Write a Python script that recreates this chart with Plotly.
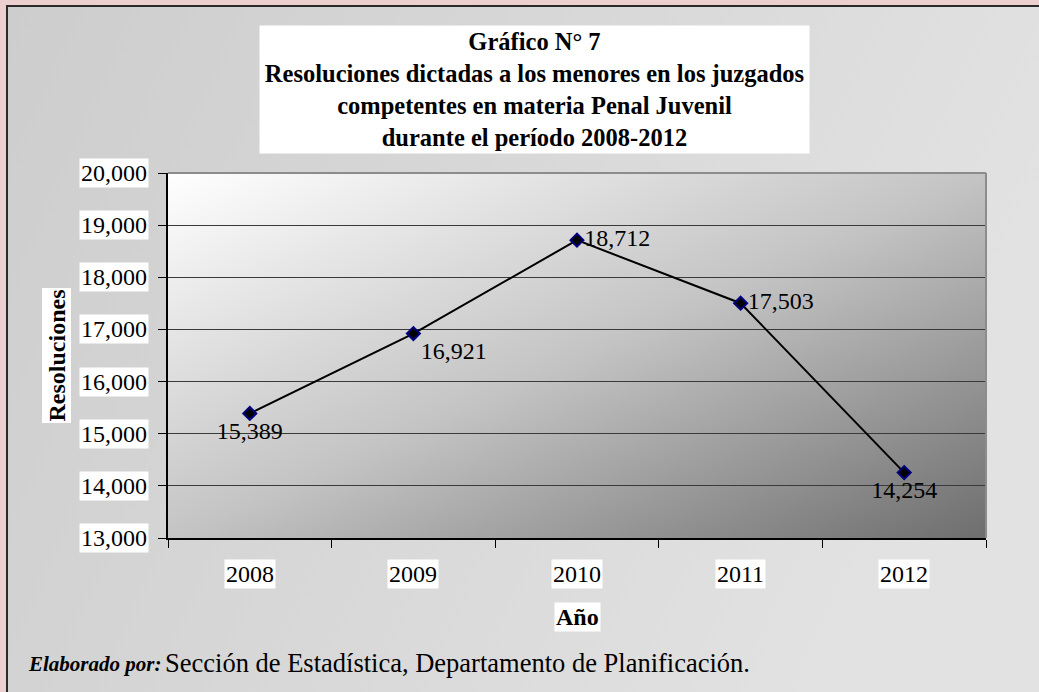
import base64

import plotly.graph_objects as go

# ── Data ──────────────────────────────────────────────────────────────────────
years = ["2008", "2009", "2010", "2011", "2012"]
resoluciones = [15389, 16921, 18712, 17503, 14254]
y_ticks = [13000, 14000, 15000, 16000, 17000, 18000, 19000, 20000]
label_pos = ["bottom center", "bottom right", "middle right", "middle right", "bottom center"]

# ── Geometry (pixels) ─────────────────────────────────────────────────────────
W, H = 1039, 692
L, R, T, B = 168, 53, 173, 154
PW, PH = W - L - R, H - T - B
SERIF = "Liberation Serif, Times New Roman, serif"


def px_x(px):
    return (px - L) / PW


def px_y(py):
    return (H - B - py) / PH


def svg_uri(svg):
    return "data:image/svg+xml;base64," + base64.b64encode(svg.encode()).decode()


plot_grad = svg_uri(
    '<svg xmlns="http://www.w3.org/2000/svg" width="100" height="100" '
    'preserveAspectRatio="none" viewBox="0 0 100 100">'
    '<defs><linearGradient id="g" x1="0" y1="0" x2="1" y2="1">'
    '<stop offset="0" stop-color="#ffffff"/>'
    '<stop offset="0.5" stop-color="#c4c4c4"/>'
    '<stop offset="1" stop-color="#6e6e6e"/>'
    '</linearGradient></defs><rect width="100" height="100" fill="url(#g)"/></svg>'
)
box_grad = svg_uri(
    '<svg xmlns="http://www.w3.org/2000/svg" width="100" height="100" '
    'preserveAspectRatio="none" viewBox="0 0 100 100">'
    '<defs><linearGradient id="g" x1="0" y1="0" x2="1" y2="0.3">'
    '<stop offset="0" stop-color="#cdcdcd"/>'
    '<stop offset="1" stop-color="#e2e2e2"/>'
    '</linearGradient></defs><rect width="100" height="100" fill="url(#g)"/></svg>'
)

x_idx = list(range(len(years)))

fig = go.Figure()
fig.add_trace(go.Scatter(
    x=x_idx, y=resoluciones,
    mode="lines+markers+text",
    text=[f"{v:,}" for v in resoluciones],
    textposition=label_pos,
    textfont=dict(family=SERIF, size=24, color="black"),
    line=dict(color="black", width=2),
    marker=dict(symbol="diamond", size=10, color="black",
                line=dict(color="#000080", width=2)),
    showlegend=False, cliponaxis=False,
))

# ── Backgrounds ───────────────────────────────────────────────────────────────
images = [
    dict(source=box_grad, xref="paper", yref="paper",
         x=px_x(7), y=px_y(6), sizex=px_x(W) - px_x(7), sizey=px_y(6) - px_y(H),
         xanchor="left", yanchor="top", sizing="stretch", layer="below"),
    dict(source=plot_grad, xref="paper", yref="paper",
         x=0, y=1, sizex=1, sizey=1,
         xanchor="left", yanchor="top", sizing="stretch", layer="below"),
]

shapes = [
    dict(type="rect", xref="paper", yref="paper",
         x0=px_x(7), x1=px_x(W + 5), y0=px_y(H + 5), y1=px_y(6),
         line=dict(color="#2a2a2a", width=2), fillcolor="rgba(0,0,0,0)", layer="above"),
    # gray top / right frame of the plot area
    dict(type="line", xref="paper", yref="paper", x0=0, x1=1, y0=1, y1=1,
         line=dict(color="#8c8c8c", width=2)),
    dict(type="line", xref="paper", yref="paper", x0=1, x1=1, y0=0, y1=1,
         line=dict(color="#8c8c8c", width=2)),
]

annotations = []
# title box
annotations.append(dict(
    text="<b>Gráfico N° 7<br>Resoluciones dictadas a los menores en los juzgados<br>"
         "competentes en materia Penal Juvenil<br>durante el período 2008-2012</b>",
    xref="paper", yref="paper", x=px_x(534.5), y=px_y(89.5),
    xanchor="center", yanchor="middle", showarrow=False,
    width=547, height=125, bgcolor="white", align="center",
    font=dict(family=SERIF, size=24.5, color="black"),
))
# y tick labels with white boxes
for v in y_ticks:
    annotations.append(dict(
        text=f"{v:,}", xref="paper", yref="y", x=0, y=v,
        xanchor="right", yanchor="middle", xshift=-19, showarrow=False,
        bgcolor="white", borderpad=1,
        font=dict(family=SERIF, size=24, color="black"),
    ))
# x tick labels with white boxes
for i, yr in enumerate(years):
    annotations.append(dict(
        text=yr, xref="x", yref="paper", x=i, y=0,
        xanchor="center", yanchor="top", yshift=-21, showarrow=False,
        bgcolor="white", borderpad=1,
        font=dict(family=SERIF, size=24, color="black"),
    ))
# axis titles
annotations.append(dict(
    text="<b>Año</b>", xref="x", yref="paper", x=2, y=0,
    xanchor="center", yanchor="top", yshift=-64, showarrow=False,
    bgcolor="white", borderpad=1, font=dict(family=SERIF, size=24, color="black"),
))
annotations.append(dict(
    text="<b>Resoluciones</b>", xref="paper", yref="paper", x=px_x(56), y=0.5,
    xanchor="center", yanchor="middle", textangle=-90, showarrow=False,
    bgcolor="white", borderpad=1, font=dict(family=SERIF, size=24, color="black"),
))
# source note
annotations.append(dict(
    text="<b><i>Elaborado por:</i></b>",
    xref="paper", yref="paper", x=px_x(26), y=px_y(664),
    xanchor="left", yanchor="middle", showarrow=False,
    font=dict(family=SERIF, size=21, color="black"),
))
annotations.append(dict(
    text="Sección de Estadística, Departamento de Planificación.",
    xref="paper", yref="paper", x=px_x(163), y=px_y(663),
    xanchor="left", yanchor="middle", showarrow=False,
    font=dict(family=SERIF, size=26.5, color="black"),
))

fig.update_layout(
    width=W, height=H,
    margin=dict(l=L, r=R, t=T, b=B),
    paper_bgcolor="#ecd0d0",
    plot_bgcolor="rgba(0,0,0,0)",
    images=images, shapes=shapes, annotations=annotations,
    showlegend=False,
)
fig.update_xaxes(
    range=[-0.5, 4.5], tickvals=[-0.5, 0.5, 1.5, 2.5, 3.5, 4.5],
    showticklabels=False, showgrid=False, zeroline=False,
    showline=True, linecolor="black", linewidth=2,
    ticks="outside", ticklen=8, tickcolor="black", tickwidth=1,
)
fig.update_yaxes(
    range=[13000, 20000], tickvals=y_ticks, showticklabels=False,
    showgrid=True, gridcolor="#3a3a3a", gridwidth=1, zeroline=False,
    showline=True, linecolor="black", linewidth=2,
    ticks="outside", ticklen=8, tickcolor="black", tickwidth=1,
)

# page body has a default 8px margin; drop it so the figure sits at 0,0
fig.write_html("out.html", config={"displayModeBar": False},
               post_script="document.body.style.margin = '0';")
